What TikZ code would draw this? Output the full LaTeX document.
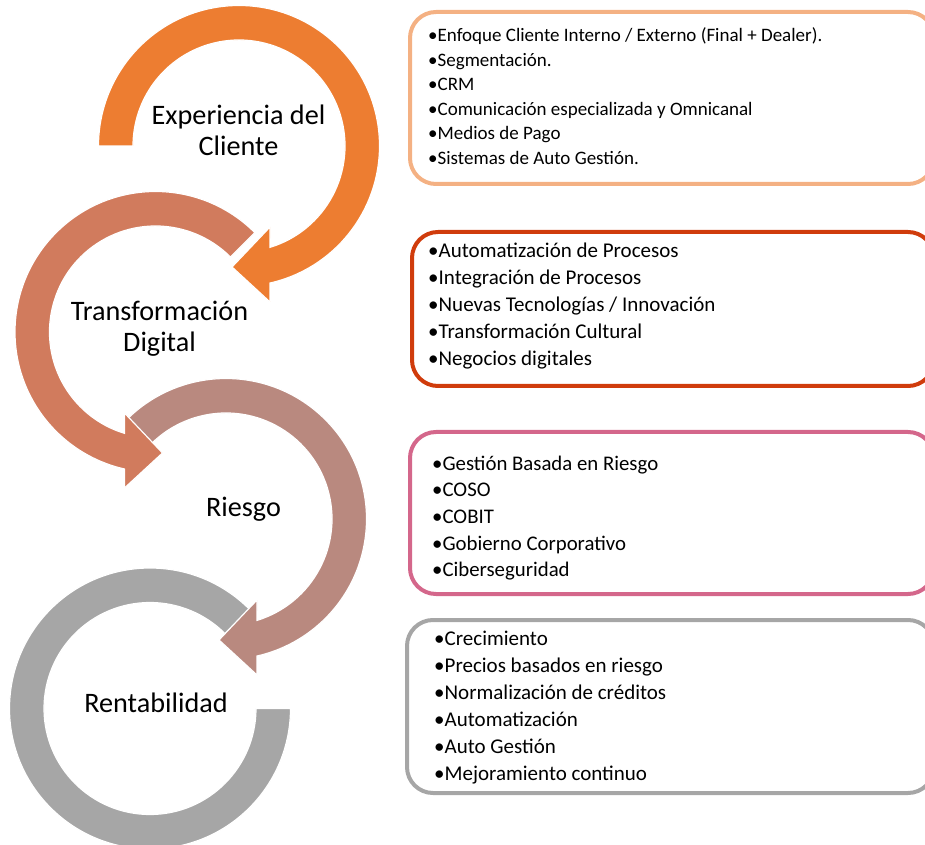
\documentclass[tikz,border=0pt]{standalone}
\usepackage{fontspec}
\setmainfont{Carlito}
\definecolor{ringA}{HTML}{ED7D31}
\definecolor{ringB}{HTML}{D17B5D}
\definecolor{ringC}{HTML}{B9897F}
\definecolor{ringD}{HTML}{A6A6A6}
\definecolor{boxA}{HTML}{F4B183}
\definecolor{boxB}{HTML}{D03C0C}
\definecolor{boxC}{HTML}{D4678B}
\definecolor{boxD}{HTML}{A6A6A6}
\begin{document}
\begin{tikzpicture}[x=1pt,y=1pt,
    ring/.style={draw=white,line width=1.2pt},
    frame/.style={rounded corners=26pt,line width=4pt},
    title/.style={anchor=base,align=center,inner sep=0pt,font=\fontsize{28.2}{31.5}\selectfont},
    items/.style={anchor=base west,inner sep=0pt,font=\fontsize{21}{27}\selectfont}]
  \useasboundingbox(0,0)rectangle(925,844);
  \begin{scope}[shift={(150,135.5)}]
    \filldraw[ring,fill=ringD](45:140.5)arc(45:360:140.5)--(106,0)arc(360:45:106)--cycle;
  \end{scope}
  \begin{scope}[shift={(226,325)}]
    \filldraw[ring,fill=ringC](135:140.5)arc(135:-77.3:140.5)--(31,-156)--(-7,-121)
      --(31,-81)--(-73:106)arc(-73:135:106)--cycle;
  \end{scope}
  \begin{scope}[shift={(155.5,512)}]
    \filldraw[ring,fill=ringB](45:140.5)arc(45:257.3:140.5)--(-31,-156)--(7,-121)
      --(-31,-81)--(253:106)arc(253:45:106)--cycle;
  \end{scope}
  \begin{scope}[shift={(239,698)}]
    \filldraw[ring,fill=ringA](180:140.5)arc(180:-77.3:140.5)--(31,-156)--(-7,-121)
      --(31,-81)--(-73:106)arc(-73:180:106)--cycle;
  \end{scope}
  \node[title](cliente)at(238.5,688){Experiencia del\\Cliente};
  \node[title](digital)at(159.5,492){Transformación\\Digital};
  \node[title](riesgo)at(243.5,328){Riesgo};
  \node[title](rentab)at(156,132){Rentabilidad};
  \draw[frame,draw=boxA](410,660)rectangle(934,832);
  \draw[frame,draw=boxB](412,458)rectangle(934,612);
  \draw[frame,draw=boxC](410,250)rectangle(934,412);
  \draw[frame,draw=boxD](407,51)rectangle(934,224);
  \foreach \t [count=\i] in {{•Enfoque Cliente Interno / Externo (Final + Dealer).},
      {•Segmentación.},{•CRM},{•Comunicación especializada y Omnicanal},
      {•Medios de Pago},{•Sistemas de Auto Gestión.}}
    \node[items,font=\fontsize{19}{24.5}\selectfont](cliente\i)at(428,{826.5-24.5*\i}){\t};
  \foreach \t [count=\i] in {{•Automatización de Procesos},{•Integración de Procesos},
      {•Nuevas Tecnologías / Innovación},{•Transformación Cultural},{•Negocios digitales}}
    \node[items](digital\i)at(428,{613-27*\i}){\t};
  \foreach \t [count=\i] in {{•Gestión Basada en Riesgo},{•COSO},{•COBIT},
      {•Gobierno Corporativo},{•Ciberseguridad}}
    \node[items,font=\fontsize{20.8}{26.7}\selectfont](riesgo\i)at(432,{400.7-26.7*\i}){\t};
  \foreach \t [count=\i] in {{•Crecimiento},{•Precios basados en riesgo},
      {•Normalización de créditos},{•Automatización},{•Auto Gestión},
      {•Mejoramiento continuo}}
    \node[items](rentab\i)at(434,{226-27*\i}){\t};
\end{tikzpicture}
\end{document}
